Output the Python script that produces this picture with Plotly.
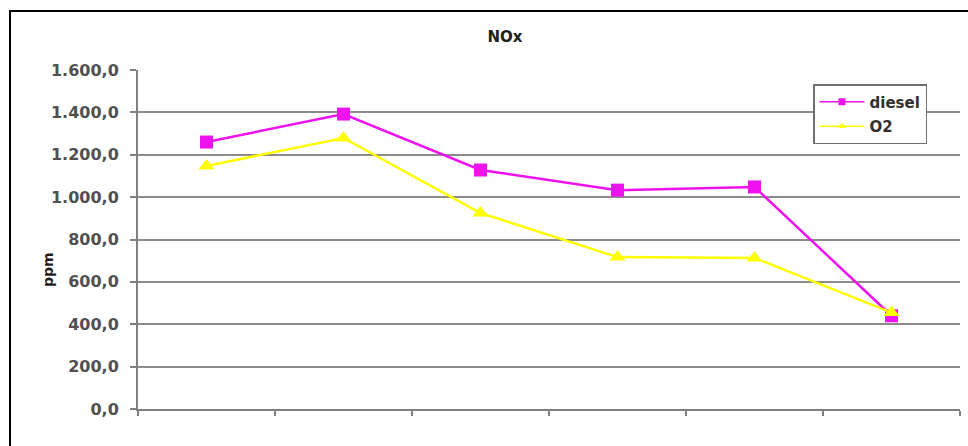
import plotly.graph_objects as go

# NOx emissions per test point (ppm)
categories = ["1", "2", "3", "4", "5", "6"]
diesel = [1260, 1392, 1128, 1033, 1048, 440]
o2 = [1147, 1279, 925, 717, 713, 455]
y_ticks = [0, 200, 400, 600, 800, 1000, 1200, 1400, 1600]

FONT = "DejaVu Sans, Verdana, sans-serif"
MAGENTA = "#EE12EE"
YELLOW = "#FFFF00"
W, H = 968, 446
L, R, T, B = 138, 8, 70, 37

fig = go.Figure()
fig.add_trace(go.Scatter(
    x=categories, y=diesel, name="diesel", mode="lines+markers",
    line=dict(color=MAGENTA, width=2.5),
    marker=dict(symbol="square", size=13, color=MAGENTA),
    showlegend=False,
))
fig.add_trace(go.Scatter(
    x=categories, y=o2, name="O2", mode="lines+markers",
    line=dict(color=YELLOW, width=2.5),
    marker=dict(symbol="triangle-up", size=14, color=YELLOW),
    showlegend=False,
))
# legend entries with the small key markers
fig.add_trace(go.Scatter(
    x=[None], y=[None], name="diesel", mode="lines+markers",
    line=dict(color=MAGENTA, width=1.5),
    marker=dict(symbol="square", size=7, color=MAGENTA),
    legendgroup="a",
))
fig.add_trace(go.Scatter(
    x=[None], y=[None], name="O2", mode="lines+markers",
    line=dict(color=YELLOW, width=1.5),
    marker=dict(symbol="triangle-up", size=7, color=YELLOW),
    legendgroup="b",
))

pw = W - L - R
ph = H - T - B


def px_x(p):
    return (p - L) / pw


def px_y(p):
    return (H - B - p) / ph


fig.update_layout(
    width=W, height=H,
    margin=dict(l=L, r=R, t=T, b=B),
    paper_bgcolor="white", plot_bgcolor="white",
    separators=",.",
    font=dict(family=FONT, size=15, color="#404040"),
    title=dict(text="<b>NOx</b>", x=505 / W, xanchor="center",
               y=1 - 37 / H, yanchor="middle",
               font=dict(family=FONT, size=15, color="#202020")),
    showlegend=True,
    legend=dict(
        x=px_x(813), y=px_y(84), xanchor="left", yanchor="top",
        bgcolor="white", bordercolor="#707070", borderwidth=1.5,
        font=dict(family=FONT, size=15, color="#303030", weight="bold"),
        itemwidth=45, tracegroupgap=2,
    ),
    xaxis=dict(
        type="category", showticklabels=False, showgrid=False,
        ticks="outside", ticklen=5, tickcolor="#808080", tickwidth=1.5,
        tickson="boundaries",
        showline=True, linecolor="#808080", linewidth=2,
        range=[-0.5, 5.5], fixedrange=True,
    ),
    yaxis=dict(
        range=[0, 1600], tickvals=y_ticks, tickformat=",.1f",
        showgrid=True, gridcolor="#8c8c8c", gridwidth=2,
        ticks="outside", ticklen=6, tickcolor="#808080", tickwidth=1.5,
        showline=True, linecolor="#808080", linewidth=2,
        ticklabelstandoff=8, zeroline=False,
        tickfont=dict(family=FONT, size=16, color="#505050", weight="bold"),
    ),
    annotations=[dict(
        text="<b>ppm</b>", textangle=-90, xref="paper", yref="paper",
        x=px_x(38), y=px_y(270), showarrow=False,
        font=dict(family=FONT, size=14, color="#202020"),
    )],
    shapes=[dict(
        type="rect", xref="paper", yref="paper",
        x0=px_x(10), x1=px_x(1000), y0=px_y(480), y1=px_y(11),
        line=dict(color="black", width=2), layer="below",
    )],
)

fig.write_html("out.html")
